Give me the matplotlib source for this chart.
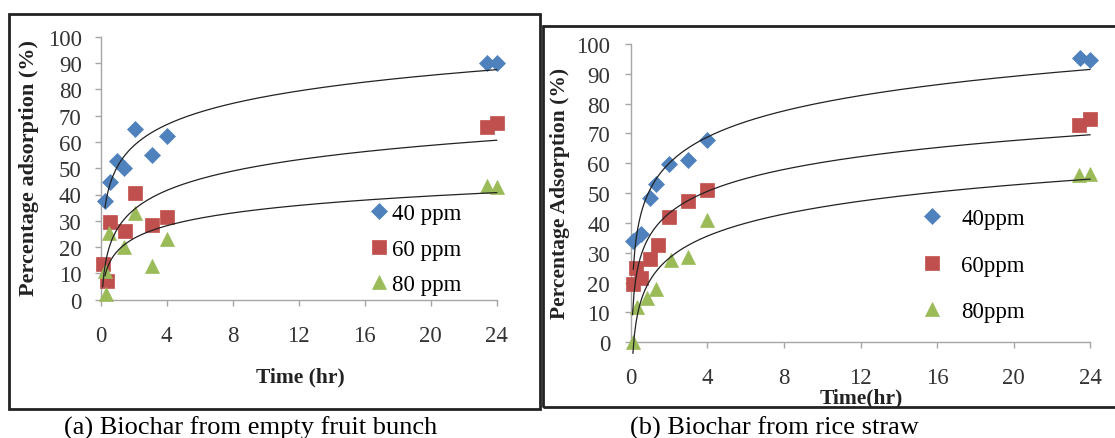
import numpy as np
import matplotlib
matplotlib.use("Agg")
import matplotlib.pyplot as plt
from matplotlib.patches import Rectangle

plt.rcParams["font.family"] = ["Liberation Serif", "DejaVu Serif"]

# ---------------- data ----------------
series_labels_a = ["40 ppm", "60 ppm", "80 ppm"]
series_labels_b = ["40ppm", "60ppm", "80ppm"]

# (a) Biochar from empty fruit bunch
a_t40 = [0.27, 0.57, 1.0, 1.4, 2.1, 3.1, 4.05, 23.4, 24]
a_y40 = [37.5, 44.8, 52.7, 50.1, 64.8, 55.2, 62.4, 89.9, 89.9]
a_t60 = [0.13, 0.37, 0.58, 1.48, 2.09, 3.1, 4.0, 23.4, 24]
a_y60 = [13.5, 7, 29.5, 26, 40.5, 28.5, 31.3, 65.5, 67]
a_t80 = [0.27, 0.36, 0.52, 1.4, 2.1, 3.1, 4.0, 23.4, 24]
a_y80 = [11, 2, 25.5, 20, 33, 13, 23, 43.4, 43]

# (b) Biochar from rice straw
b_t40 = [0.12, 0.5, 1.0, 1.33, 2.0, 3.0, 4.0, 23.5, 24]
b_y40 = [34, 36.3, 48.3, 53, 59.8, 61, 67.8, 95.2, 94.6]
b_t60 = [0.08, 0.25, 0.5, 1.0, 1.4, 2.0, 3.0, 4.0, 23.4, 24]
b_y60 = [19.5, 25, 21.5, 28, 32.5, 42, 47.5, 51, 73, 75]
b_t80 = [0.1, 0.33, 0.85, 1.33, 2.1, 3.0, 4.0, 23.4, 24]
b_y80 = [0, 12, 15, 18, 27.5, 28.5, 41, 56, 56.5]

x_ticks = [0, 4, 8, 12, 16, 20, 24]
y_ticks = [0, 10, 20, 30, 40, 50, 60, 70, 80, 90, 100]

colors = ["#4F81BD", "#C0504D", "#9BBB59"]
markers = ["D", "s", "^"]
msizes = [7.8, 10, 10.5]

W, H = 1115, 439
fig = plt.figure(figsize=(W / 100, H / 100), dpi=100)
fig.patch.set_facecolor("white")


def fx(px):
    return px / W


def fy(py):
    return (H - py) / H


def make_axes(x0, x24, y0, y100, ypad):
    ax = fig.add_axes([fx(x0), fy(y0), fx(x24) - fx(x0), fy(y100) - fy(y0)])
    ax.set_xlim(0, 24)
    ax.set_ylim(0, 100)
    ax.set_xticks(x_ticks)
    ax.set_yticks(y_ticks)
    for s in ["top", "right"]:
        ax.spines[s].set_visible(False)
    for s in ["left", "bottom"]:
        ax.spines[s].set_color("#A6A6A6")
        ax.spines[s].set_linewidth(1.0)
    ax.tick_params(axis="both", direction="out", length=4, width=1,
                   color="#A6A6A6", labelsize=16.5, labelcolor="#333333")
    ax.tick_params(axis="y", pad=ypad)
    ax.tick_params(axis="x", pad=14)
    ax.set_facecolor("white")
    return ax


def draw_panel(ax, ts, ys, labels):
    handles = []
    for t, y, c, m, ms, lab in zip(ts, ys, colors, markers, msizes, labels):
        h, = ax.plot(t, y, linestyle="none", marker=m, markersize=ms,
                     color=c, markeredgecolor=c, markeredgewidth=0.5,
                     clip_on=False, zorder=3, label=lab)
        handles.append(h)
    for t, y in zip(ts, ys):
        t = np.asarray(t, float)
        y = np.asarray(y, float)
        a, b = np.polyfit(np.log(t), y, 1)
        xx = np.linspace(t.min(), t.max(), 300)
        ax.plot(xx, a * np.log(xx) + b, color="#222222", lw=0.9, zorder=4,
                clip_on=False)
    return handles


# ---- left panel ----
axa = make_axes(100.5, 496.7, 300.7, 37.7, 9.5)
ha = draw_panel(axa, [a_t40, a_t60, a_t80], [a_y40, a_y60, a_y80], series_labels_a)
fig.legend(handles=ha, loc="center left", bbox_to_anchor=(fx(368), fy(250)),
           bbox_transform=fig.transFigure, frameon=False, fontsize=16.5,
           handlelength=1.0, handletextpad=0.05, labelspacing=0.62,
           borderpad=0, borderaxespad=0, numpoints=1)
fig.text(fx(29), fy(168), "Percentage adsorption (%)", rotation=90,
         ha="center", va="center", fontsize=16, fontweight="bold", color="#222222")
fig.text(fx(300), fy(377), "Time (hr)", ha="center", va="center",
         fontsize=15.5, fontweight="bold", color="#222222")

# ---- right panel ----
axb = make_axes(631, 1090, 343.3, 45, 11)
hb = draw_panel(axb, [b_t40, b_t60, b_t80], [b_y40, b_y60, b_y80], series_labels_b)
fig.legend(handles=hb, loc="center left", bbox_to_anchor=(fx(921), fy(266)),
           bbox_transform=fig.transFigure, frameon=False, fontsize=16.5,
           handlelength=1.0, handletextpad=0.75, labelspacing=1.1,
           borderpad=0, borderaxespad=0, numpoints=1)
fig.text(fx(560), fy(193), "Percentage Adsorption (%)", rotation=90,
         ha="center", va="center", fontsize=15.5, fontweight="bold", color="#222222")
fig.text(fx(861), fy(398), "Time(hr)", ha="center", va="center",
         fontsize=15.5, fontweight="bold", color="#222222")

# ---- frames ----
fig.add_artist(Rectangle((fx(9), fy(410)), fx(540) - fx(9), fy(15) - fy(410),
                         transform=fig.transFigure, fill=False,
                         edgecolor="#222222", lw=2.0, zorder=0))
fig.add_artist(Rectangle((fx(543), fy(408)), fx(1125) - fx(543), fy(27) - fy(408),
                         transform=fig.transFigure, fill=False,
                         edgecolor="#222222", lw=2.0, zorder=0, clip_on=False))

# ---- captions ----
fig.text(fx(64), fy(428), "(a) Biochar from empty fruit bunch", ha="left",
         va="center", fontsize=19, color="black")
fig.text(fx(630), fy(428), "(b) Biochar from rice straw", ha="left",
         va="center", fontsize=19, color="black")

fig.savefig("out.png", dpi=100, facecolor="white")
